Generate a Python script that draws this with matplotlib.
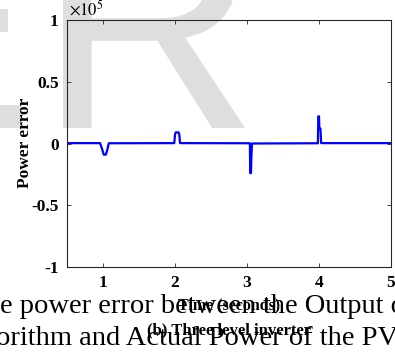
# -*- coding: utf-8 -*-
# power error of the three level inverter, MATLAB style figure
import numpy as np
import matplotlib
matplotlib.use("Agg")
import matplotlib.pyplot as plt
from matplotlib.font_manager import FontProperties
from matplotlib.textpath import TextPath
from matplotlib.patches import PathPatch
from matplotlib.transforms import Affine2D

# time axis (s) and power error (x 1e5 W)
time_s = [0.50, 0.96, 0.99, 1.01, 1.04, 1.06, 1.08,
          1.99, 2.00, 2.01, 2.05, 2.06, 2.07,
          3.04, 3.045, 3.055, 3.06, 3.07,
          3.985, 3.99, 4.00, 4.005, 4.02, 4.03, 5.00]
power_err = [0.003, 0.003, -0.05, -0.09, -0.09, -0.05, 0.002,
             0.003, 0.07, 0.09, 0.09, 0.07, 0.003,
             0.002, -0.24, -0.24, -0.12, 0.0,
             0.002, 0.22, 0.22, 0.12, 0.12, 0.003, 0.003]

x_ticks = [1, 2, 3, 4, 5]
y_ticks = [-1, -0.5, 0, 0.5, 1]
y_ticklabels = ["-1", "-0.5", "0", "0.5", "1"]

caption_1 = "e power error between the Output o"
caption_2 = "orithm and Actual Power of the PV a"

plt.rcParams["mathtext.fontset"] = "stix"
W, H = 395, 352
fig = plt.figure(figsize=(W / 100, H / 100), dpi=100)
fig.patch.set_facecolor("white")


def backdrop_letter(ch, x0, x1, y_base, height):
    # big grey letter placed in pixel units (y measured from the top)
    path = TextPath((0, 0), ch, size=100,
                    prop=FontProperties(family="Liberation Sans"))
    ext = path.get_extents()
    tr = (Affine2D().translate(-ext.x0, -ext.y0)
          .scale((x1 - x0) / ext.width, height / ext.height)
          .translate(x0, H - y_base))
    fig.add_artist(PathPatch(path, transform=tr, facecolor="#dedede",
                             edgecolor="none", zorder=-5))


backdrop_letter("E", -136, 22, 128, 210)
backdrop_letter("R", 63, 245, 128, 210)

ax = fig.add_axes([67 / W, 1 - 267 / H, 324 / W, 247 / H])
ax.patch.set_alpha(0)
ax.plot(time_s, power_err, color="#0000ff", lw=1.6)

ax.set_xlim(0.5, 5)
ax.set_ylim(-1, 1)
ax.set_xticks(x_ticks)
ax.set_yticks(y_ticks)
ax.set_yticklabels(y_ticklabels)
tick_font = FontProperties(family="Liberation Serif", weight="bold", size=12.5)
for lab in ax.get_xticklabels() + ax.get_yticklabels():
    lab.set_fontproperties(tick_font)
ax.tick_params(direction="in", length=3, width=0.6, top=True, right=True,
               colors="#262626", labelcolor="black", pad=6)
for sp in ax.spines.values():
    sp.set_color("#262626")
    sp.set_linewidth(0.8)

fig.text(25 / W, 1 - 143 / H, "Power error", family="Liberation Serif",
         weight="bold", fontsize=12.5, rotation=90, ha="center", va="center")
fig.text(69 / W, 1 - 15 / H, r"$\times10^{5}$", fontsize=12,
         ha="left", va="baseline")

fig.text(229 / W, 1 - 305 / H, "Time (seconds)", family="Liberation Serif",
         weight="bold", fontsize=11.5, ha="center", va="center")
fig.text(229 / W, 1 - 330 / H, "(b) Three level inverter",
         family="Liberation Serif", weight="bold", fontsize=12,
         ha="center", va="center")

# body text of the page running over the figure
fig.text(0, 1 - 313 / H, caption_1, family="Liberation Serif", fontsize=20.5,
         ha="left", va="baseline")
fig.text(-4 / W, 1 - 345 / H, caption_2, family="Liberation Serif",
         fontsize=20.5, ha="left", va="baseline")

fig.savefig("out.png", dpi=100)
